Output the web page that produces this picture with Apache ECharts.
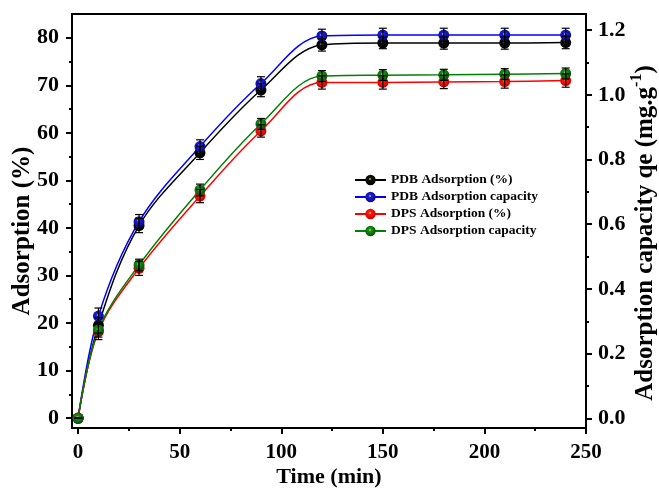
<!DOCTYPE html>
<html>
<head>
<meta charset="utf-8">
<script src="https://cdn.jsdelivr.net/npm/echarts@6/dist/echarts.min.js"></script>
<style>
html,body{margin:0;padding:0;background:#fff;}
#chart{width:659px;height:489px;}
</style>
</head>
<body>
<div id="chart"></div>
<script>
// contact time (min)
var times = [0, 10, 30, 60, 90, 120, 150, 180, 210, 240];
// PDB / DPS adsorption (%) - left axis
var pdbPct = [0, 19.5, 40.5, 55.8, 69.0, 78.5, 78.9, 78.9, 78.9, 79.0];
var dpsPct = [0, 18.2, 31.5, 46.7, 60.4, 70.6, 70.6, 70.7, 70.8, 71.0];
// PDB / DPS adsorption capacity qe (mg/g) - right axis
var pdbCap = [0, 0.316, 0.608, 0.840, 1.035, 1.182, 1.185, 1.185, 1.185, 1.185];
var dpsCap = [0, 0.273, 0.474, 0.706, 0.910, 1.058, 1.061, 1.062, 1.064, 1.066];
// error bars
var pdbPctErr = [0, 1.6, 1.5, 1.4, 1.4, 1.3, 1.2, 1.3, 1.3, 1.3];
var dpsPctErr = [0, 1.7, 1.5, 1.4, 1.3, 1.4, 1.4, 1.4, 1.4, 1.4];
var pdbCapErr = [0, 0.025, 0.022, 0.021, 0.021, 0.021, 0.021, 0.021, 0.021, 0.021];
var dpsCapErr = [0, 0.022, 0.018, 0.018, 0.017, 0.017, 0.017, 0.017, 0.017, 0.017];
// ticks
var xMajor = [0, 50, 100, 150, 200, 250];
var xMinor = [25, 75, 125, 175, 225];
var yMajor = [0, 10, 20, 30, 40, 50, 60, 70, 80];
var yMinor = [5, 15, 25, 35, 45, 55, 65, 75];
var y2Major = [0, 0.2, 0.4, 0.6, 0.8, 1.0, 1.2];
var y2Minor = [0.1, 0.3, 0.5, 0.7, 0.9, 1.1];

var names = ['PDB Adsorption (%)', 'PDB Adsorption capacity', 'DPS Adsorption (%)', 'DPS Adsorption capacity'];
var font = 'Liberation Serif';

function ball(base, dark){
    return {
        type: 'radial', x: 0.45, y: 0.4, r: 0.6,
        colorStops: [
            {offset: 0, color: '#f0e640'},
            {offset: 0.25, color: base},
            {offset: 1, color: dark}
        ]
    };
}

function pairs(ys){
    return times.map(function(t, i){ return [t, ys[i]]; });
}
function errData(ys, es){
    return times.map(function(t, i){ return [t, ys[i] - es[i], ys[i] + es[i]]; });
}
function errRender(params, api){
    var x = api.value(0);
    var lo = api.coord([x, api.value(1)]);
    var hi = api.coord([x, api.value(2)]);
    var w = 4;
    var st = {stroke: '#000', lineWidth: 1.2};
    return {type: 'group', children: [
        {type: 'line', shape: {x1: lo[0], y1: lo[1], x2: hi[0], y2: hi[1]}, style: st},
        {type: 'line', shape: {x1: lo[0] - w, y1: lo[1], x2: lo[0] + w, y2: lo[1]}, style: st},
        {type: 'line', shape: {x1: hi[0] - w, y1: hi[1], x2: hi[0] + w, y2: hi[1]}, style: st}
    ]};
}

function lineSeries(name, data, yIdx, color, fill){
    return {
        name: name, type: 'line', yAxisIndex: yIdx,
        data: pairs(data),
        smooth: 0.35,
        symbol: 'circle', symbolSize: 11,
        lineStyle: {color: color, width: 1.5},
        itemStyle: {color: fill},
        z: 3
    };
}
function errSeries(data, err, yIdx){
    return {
        type: 'custom', yAxisIndex: yIdx,
        data: errData(data, err),
        encode: {x: 0, y: [1, 2]},
        renderItem: errRender,
        silent: true, z: 4
    };
}

var xLabelStyle = {color: '#000', fontFamily: font, fontWeight: 'bold', fontSize: 21};
var yLabelStyle = {color: '#000', fontFamily: font, fontWeight: 'bold', fontSize: 22};
var xNameStyle = {color: '#000', fontFamily: font, fontWeight: 'bold', fontSize: 22};
var yNameStyle = {color: '#000', fontFamily: font, fontWeight: 'bold', fontSize: 25, padding: [0, 20, 0, 0]};

var chart = echarts.init(document.getElementById('chart'));
chart.setOption({
    animation: false,
    backgroundColor: '#fff',
    grid: {left: 72, right: 73, top: 14, bottom: 61, show: true, borderColor: '#000', borderWidth: 2, outerBoundsMode: 'none'},
    legend: {
        data: names, orient: 'vertical', left: 349, top: 168,
        itemWidth: 31, itemHeight: 13, itemGap: 3,
        textStyle: {color: '#000', fontFamily: font, fontWeight: 'bold', fontSize: 13.5}
    },
    xAxis: [{
        type: 'value', min: -3, max: 250, position: 'bottom',
        name: 'Time (min)', nameLocation: 'middle', nameGap: 38, nameMoveOverlap: false, nameTextStyle: xNameStyle,
        axisLine: {onZero: false, lineStyle: {color: '#000', width: 2}},
        axisTick: {customValues: xMajor, length: 6, lineStyle: {color: '#000', width: 2}},
        axisLabel: {customValues: xMajor, margin: 14, textStyle: xLabelStyle},
        splitLine: {show: false}
    }, {
        type: 'value', min: -3, max: 250, position: 'bottom',
        axisLine: {show: false, onZero: false},
        axisTick: {customValues: xMinor, length: 3, lineStyle: {color: '#000', width: 2}},
        axisLabel: {show: false},
        splitLine: {show: false}
    }],
    yAxis: [{
        type: 'value', min: -2.1, max: 85, position: 'left',
        name: 'Adsorption (%)', nameLocation: 'middle', nameRotate: 90, nameGap: 37, nameMoveOverlap: false, nameTextStyle: yNameStyle,
        axisLine: {onZero: false, lineStyle: {color: '#000', width: 2}},
        axisTick: {customValues: yMajor, length: 6, lineStyle: {color: '#000', width: 2}},
        axisLabel: {customValues: yMajor, margin: 13, textStyle: yLabelStyle},
        splitLine: {show: false}
    }, {
        type: 'value', min: -0.03, max: 1.25, position: 'right',
        name: 'Adsorption capacity qe (mg.g{sup|-1})', nameLocation: 'middle', nameRotate: 90, nameGap: 43, nameMoveOverlap: false,
        nameTextStyle: {
            color: '#000', fontFamily: font, fontWeight: 'bold', fontSize: 25, lineHeight: 34, padding: [0, 24, 0, 0],
            rich: {sup: {fontFamily: font, fontWeight: 'bold', fontSize: 16, color: '#000', verticalAlign: 'top', lineHeight: 16}}
        },
        axisLine: {onZero: false, lineStyle: {color: '#000', width: 2}},
        axisTick: {customValues: y2Major, length: 6, lineStyle: {color: '#000', width: 2}},
        axisLabel: {customValues: y2Major, margin: 12, textStyle: yLabelStyle, formatter: function(v){ return v.toFixed(1); }},
        splitLine: {show: false}
    }, {
        type: 'value', min: -2.1, max: 85, position: 'left',
        axisLine: {show: false, onZero: false},
        axisTick: {customValues: yMinor, length: 3, lineStyle: {color: '#000', width: 2}},
        axisLabel: {show: false},
        splitLine: {show: false}
    }, {
        type: 'value', min: -0.03, max: 1.25, position: 'right',
        axisLine: {show: false, onZero: false},
        axisTick: {customValues: y2Minor, length: 3, lineStyle: {color: '#000', width: 2}},
        axisLabel: {show: false},
        splitLine: {show: false}
    }],
    series: [
        lineSeries(names[0], pdbPct, 0, '#000000', ball('#111111', '#000000')),
        lineSeries(names[1], pdbCap, 1, '#0000ff', ball('#1a1ae6', '#0a0a80')),
        lineSeries(names[2], dpsPct, 0, '#ff0000', ball('#ff1a10', '#c80000')),
        lineSeries(names[3], dpsCap, 1, '#008000', ball('#149014', '#0a500a')),
        errSeries(pdbPct, pdbPctErr, 0),
        errSeries(pdbCap, pdbCapErr, 1),
        errSeries(dpsPct, dpsPctErr, 0),
        errSeries(dpsCap, dpsCapErr, 1)
    ]
});
</script>
</body>
</html>
